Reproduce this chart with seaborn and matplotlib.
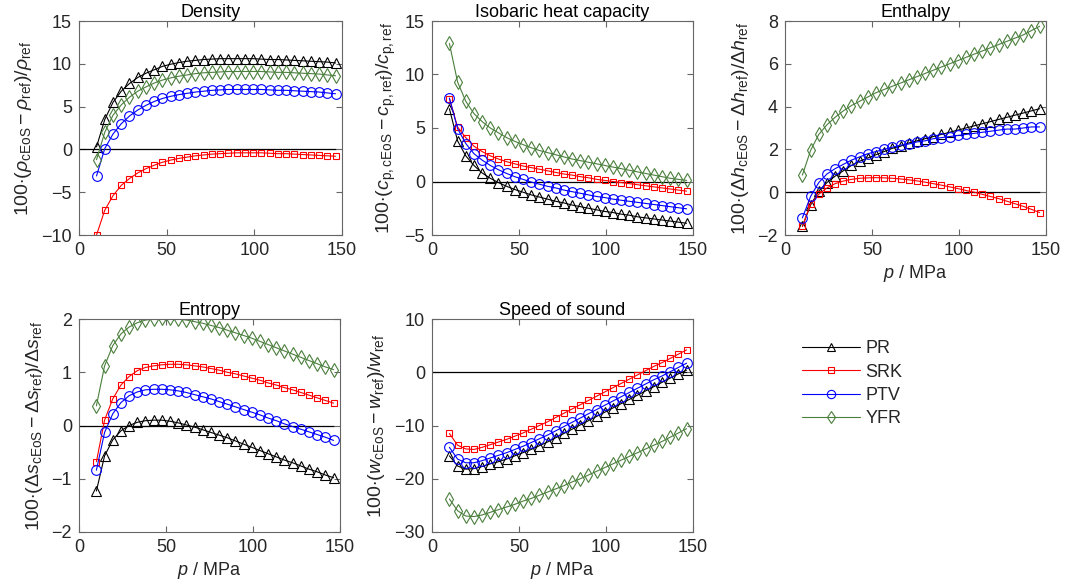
import numpy as np
import pandas as pd
import matplotlib
matplotlib.use("Agg")
import matplotlib.pyplot as plt
from matplotlib.lines import Line2D
import seaborn as sns

# ---------------- data ----------------
P = [10.0, 14.7, 19.4, 24.1, 28.8, 33.5, 38.2, 42.9, 47.6, 52.3, 57.0, 61.7, 66.4, 71.1, 75.8,
     80.5, 85.2, 89.9, 94.6, 99.3, 104.0, 108.7, 113.4, 118.1, 122.8, 127.5, 132.2, 136.9, 141.6, 146.3]

DENS_PR = [0.3, 3.5, 5.5, 6.8, 7.7, 8.4, 8.9, 9.3, 9.7, 9.95, 10.15, 10.3, 10.4, 10.5, 10.55,
           10.6, 10.6, 10.6, 10.6, 10.6, 10.55, 10.5, 10.5, 10.45, 10.4, 10.35, 10.3, 10.25, 10.2, 10.1]
DENS_SRK = [-10.0, -7.1, -5.4, -4.2, -3.4, -2.75, -2.25, -1.85, -1.5, -1.25, -1.05, -0.9, -0.75, -0.65, -0.55,
            -0.5, -0.45, -0.4, -0.4, -0.4, -0.4, -0.45, -0.5, -0.5, -0.55, -0.6, -0.65, -0.7, -0.75, -0.8]
DENS_PTV = [-3.1, 0.1, 1.8, 3.0, 3.9, 4.6, 5.15, 5.6, 5.95, 6.2, 6.4, 6.55, 6.7, 6.8, 6.9,
            6.95, 7.0, 7.0, 7.0, 7.0, 7.0, 6.95, 6.9, 6.9, 6.85, 6.8, 6.75, 6.7, 6.6, 6.5]
DENS_YFR = [-1.2, 2.0, 4.0, 5.2, 6.1, 6.8, 7.3, 7.75, 8.1, 8.35, 8.55, 8.7, 8.85, 8.95, 9.0,
            9.05, 9.1, 9.1, 9.1, 9.1, 9.1, 9.05, 9.0, 9.0, 8.95, 8.9, 8.85, 8.8, 8.7, 8.6]

CP_PR = [6.8, 3.8, 2.4, 1.5, 0.8, 0.3, -0.1, -0.45, -0.75, -1.0, -1.25, -1.45, -1.65, -1.85, -2.0,
         -2.2, -2.35, -2.5, -2.65, -2.8, -2.9, -3.05, -3.15, -3.3, -3.4, -3.5, -3.6, -3.7, -3.8, -3.9]
CP_SRK = [7.75, 5.1, 4.1, 3.3, 2.8, 2.4, 2.1, 1.85, 1.65, 1.45, 1.3, 1.15, 1.0, 0.85, 0.7,
          0.6, 0.45, 0.35, 0.2, 0.1, 0.0, -0.1, -0.2, -0.3, -0.4, -0.5, -0.6, -0.7, -0.8, -0.9]
CP_PTV = [7.8, 4.95, 3.55, 2.6, 2.0, 1.5, 1.1, 0.75, 0.45, 0.2, -0.05, -0.25, -0.45, -0.6, -0.8,
          -0.95, -1.1, -1.25, -1.4, -1.5, -1.65, -1.75, -1.85, -1.95, -2.05, -2.15, -2.25, -2.35, -2.45, -2.55]
CP_YFR = [12.9, 9.3, 7.5, 6.35, 5.6, 5.0, 4.55, 4.1, 3.75, 3.45, 3.15, 2.9, 2.7, 2.5, 2.3,
          2.1, 1.95, 1.8, 1.65, 1.5, 1.35, 1.2, 1.05, 0.9, 0.75, 0.6, 0.45, 0.3, 0.2, 0.1]

ENTH_PR = [-1.6, -0.6, 0.05, 0.45, 0.75, 1.0, 1.25, 1.45, 1.6, 1.75, 1.9, 2.05, 2.15, 2.3, 2.4,
           2.5, 2.6, 2.7, 2.8, 2.9, 3.0, 3.1, 3.2, 3.3, 3.4, 3.5, 3.6, 3.7, 3.8, 3.9]
ENTH_SRK = [-1.6, -0.55, -0.1, 0.2, 0.4, 0.52, 0.6, 0.65, 0.67, 0.68, 0.67, 0.65, 0.62, 0.58, 0.53,
            0.47, 0.4, 0.33, 0.25, 0.17, 0.08, 0.0, -0.1, -0.2, -0.3, -0.42, -0.54, -0.66, -0.8, -0.95]
ENTH_PTV = [-1.2, -0.2, 0.45, 0.85, 1.1, 1.3, 1.5, 1.65, 1.8, 1.9, 2.0, 2.1, 2.2, 2.25, 2.35,
            2.4, 2.5, 2.55, 2.6, 2.65, 2.7, 2.75, 2.8, 2.85, 2.9, 2.95, 2.95, 3.0, 3.05, 3.05]
ENTH_YFR = [0.8, 1.95, 2.7, 3.15, 3.5, 3.8, 4.05, 4.25, 4.45, 4.65, 4.8, 4.95, 5.1, 5.25, 5.4,
            5.55, 5.7, 5.85, 6.0, 6.15, 6.3, 6.45, 6.6, 6.75, 6.9, 7.05, 7.2, 7.35, 7.55, 7.75]

ENTR_PR = [-1.23, -0.57, -0.27, -0.1, 0.0, 0.06, 0.09, 0.1, 0.1, 0.08, 0.05, 0.01, -0.03, -0.08, -0.13,
           -0.18, -0.23, -0.29, -0.35, -0.41, -0.47, -0.53, -0.59, -0.65, -0.7, -0.76, -0.82, -0.87, -0.93, -0.98]
ENTR_SRK = [-0.68, 0.1, 0.5, 0.76, 0.92, 1.03, 1.09, 1.12, 1.14, 1.15, 1.15, 1.14, 1.12, 1.1, 1.07,
            1.04, 1.0, 0.97, 0.93, 0.89, 0.85, 0.8, 0.76, 0.71, 0.67, 0.62, 0.57, 0.52, 0.47, 0.42]
ENTR_PTV = [-0.84, -0.13, 0.22, 0.43, 0.56, 0.63, 0.67, 0.68, 0.68, 0.67, 0.65, 0.62, 0.58, 0.54, 0.5,
            0.45, 0.4, 0.35, 0.3, 0.25, 0.2, 0.14, 0.09, 0.03, -0.02, -0.07, -0.12, -0.17, -0.22, -0.28]
ENTR_YFR = [0.37, 1.12, 1.5, 1.72, 1.85, 1.93, 1.98, 2.0, 2.01, 2.01, 2.0, 1.98, 1.95, 1.92, 1.88,
            1.84, 1.79, 1.74, 1.69, 1.64, 1.58, 1.52, 1.46, 1.4, 1.34, 1.28, 1.22, 1.16, 1.1, 1.05]

SOS_PR = [-15.7, -17.6, -18.2, -18.1, -17.7, -17.2, -16.8, -16.3, -15.7, -15.1, -14.5, -13.8, -13.1, -12.3, -11.5,
          -10.7, -9.9, -9.1, -8.3, -7.5, -6.7, -5.9, -5.1, -4.3, -3.5, -2.7, -1.9, -1.1, -0.3, 0.4]
SOS_SRK = [-11.5, -13.7, -14.4, -14.5, -14.1, -13.6, -13.1, -12.6, -12.0, -11.4, -10.7, -10.0, -9.3, -8.5, -7.7,
           -6.9, -6.1, -5.3, -4.5, -3.7, -2.9, -2.1, -1.3, -0.5, 0.3, 1.1, 1.8, 2.6, 3.4, 4.2]
SOS_PTV = [-14.1, -16.3, -17.0, -17.0, -16.6, -16.1, -15.6, -15.1, -14.5, -13.9, -13.2, -12.5, -11.8, -11.0, -10.2,
           -9.4, -8.6, -7.8, -7.0, -6.2, -5.4, -4.6, -3.8, -3.0, -2.2, -1.4, -0.7, 0.1, 0.9, 1.7]
SOS_YFR = [-23.8, -26.0, -27.0, -27.1, -26.8, -26.3, -25.8, -25.3, -24.8, -24.2, -23.7, -23.1, -22.5, -21.9, -21.3,
           -20.6, -20.0, -19.3, -18.6, -17.9, -17.2, -16.5, -15.8, -15.1, -14.4, -13.7, -13.0, -12.2, -11.4, -10.6]

MODELS = ["PR", "SRK", "PTV", "YFR"]
TITLES = ["Density", "Isobaric heat capacity", "Enthalpy", "Entropy", "Speed of sound"]
XTICKS = [0, 50, 100, 150]

# ---------------- style ----------------
sns.set_theme(style="white")
plt.rcParams["font.family"] = ["Liberation Sans", "DejaVu Sans"]
plt.rcParams.update({
    "mathtext.fontset": "custom",
    "mathtext.rm": "Liberation Sans",
    "mathtext.it": "Liberation Sans:italic",
    "mathtext.bf": "Liberation Sans:bold",
    "mathtext.sf": "Liberation Sans",
    "axes.unicode_minus": True,
})

FS = 13
LFS = 14
COLORS = {"PR": "#000000", "SRK": "#ff0000", "PTV": "#0000ff", "YFR": "#4a7f3c"}
MARKERS = {"PR": "^", "SRK": "s", "PTV": "o", "YFR": "d"}
MSIZE = {"PR": 7, "SRK": 5, "PTV": 7, "YFR": 7}
SPINE = "#666666"
TXT = "#262626"

W, H = 1066, 587
fig = plt.figure(figsize=(W / 100, H / 100), dpi=100)

def rect(l, r, t, b):
    return [l / W, 1 - b / H, (r - l) / W, (b - t) / H]

panels = [
    dict(pos=rect(79, 342, 21, 235), data=[DENS_PR, DENS_SRK, DENS_PTV, DENS_YFR], ylim=(-10, 15),
         yticks=[-10, -5, 0, 5, 10, 15],
         ylabel=r"$100{\cdot}(\rho_{\mathrm{cEoS}}-\rho_{\mathrm{ref}})/\rho_{\mathrm{ref}}$", xlabel=False),
    dict(pos=rect(432, 693, 21, 235), data=[CP_PR, CP_SRK, CP_PTV, CP_YFR], ylim=(-5, 15),
         yticks=[-5, 0, 5, 10, 15],
         ylabel=r"$100{\cdot}(c_{\mathrm{p,cEoS}}-c_{\mathrm{p,ref}})/c_{\mathrm{p,ref}}$", xlabel=False),
    dict(pos=rect(785, 1046, 21, 235), data=[ENTH_PR, ENTH_SRK, ENTH_PTV, ENTH_YFR], ylim=(-2, 8),
         yticks=[-2, 0, 2, 4, 6, 8],
         ylabel=r"$100{\cdot}(\Delta h_{\mathrm{cEoS}}-\Delta h_{\mathrm{ref}})/\Delta h_{\mathrm{ref}}$", xlabel=True),
    dict(pos=rect(79, 340, 319, 532), data=[ENTR_PR, ENTR_SRK, ENTR_PTV, ENTR_YFR], ylim=(-2, 2),
         yticks=[-2, -1, 0, 1, 2],
         ylabel=r"$100{\cdot}(\Delta s_{\mathrm{cEoS}}-\Delta s_{\mathrm{ref}})/\Delta s_{\mathrm{ref}}$", xlabel=True),
    dict(pos=rect(432, 693, 319, 532), data=[SOS_PR, SOS_SRK, SOS_PTV, SOS_YFR], ylim=(-30, 10),
         yticks=[-30, -20, -10, 0, 10],
         ylabel=r"$100{\cdot}(w_{\mathrm{cEoS}}-w_{\mathrm{ref}})/w_{\mathrm{ref}}$", xlabel=True),
]

for title, pan in zip(TITLES, panels):
    ax = fig.add_axes(pan["pos"])
    ax.hlines(0, XTICKS[0], P[-1], color="black", lw=0.9, zorder=1)
    for m, vals in zip(MODELS, pan["data"]):
        sns.lineplot(x=P, y=vals, ax=ax, color=COLORS[m], marker=MARKERS[m],
                     markersize=MSIZE[m], markerfacecolor="none", markeredgecolor=COLORS[m],
                     markeredgewidth=0.8, lw=0.8, zorder=2, legend=False, errorbar=None)
    ax.set_xlim(XTICKS[0], XTICKS[-1])
    ax.set_xticks(XTICKS)
    ax.set_ylim(*pan["ylim"])
    ax.set_yticks(pan["yticks"])
    ax.set_title(title, fontsize=FS, color="black", pad=3)
    ax.set_ylabel(pan["ylabel"], fontsize=LFS, color=TXT, labelpad=5)
    if pan["xlabel"]:
        ax.set_xlabel(r"$p$ / MPa", fontsize=FS, color=TXT, labelpad=3)
    else:
        ax.set_xlabel("")
    ax.tick_params(direction="in", length=4, width=0.8, color=SPINE, labelsize=FS,
                   labelcolor=TXT, top=True, right=True, bottom=True, left=True, pad=5)
    for s in ax.spines.values():
        s.set_color(SPINE)
        s.set_linewidth(0.8)
        s.set_visible(True)
    ax.set_facecolor("white")

handles = [Line2D([], [], color=COLORS[m], marker=MARKERS[m], markersize=MSIZE[m] - 1,
                  markerfacecolor="none", markeredgecolor=COLORS[m], markeredgewidth=0.8, lw=0.8)
           for m in MODELS]
fig.legend(handles, MODELS, loc="upper left", bbox_to_anchor=(795 / W, 1 - 333 / H),
           frameon=False, fontsize=FS, handlelength=3.2, labelspacing=0.35, handletextpad=0.3,
           borderaxespad=0)

fig.savefig("out.png", dpi=100, facecolor="white")
